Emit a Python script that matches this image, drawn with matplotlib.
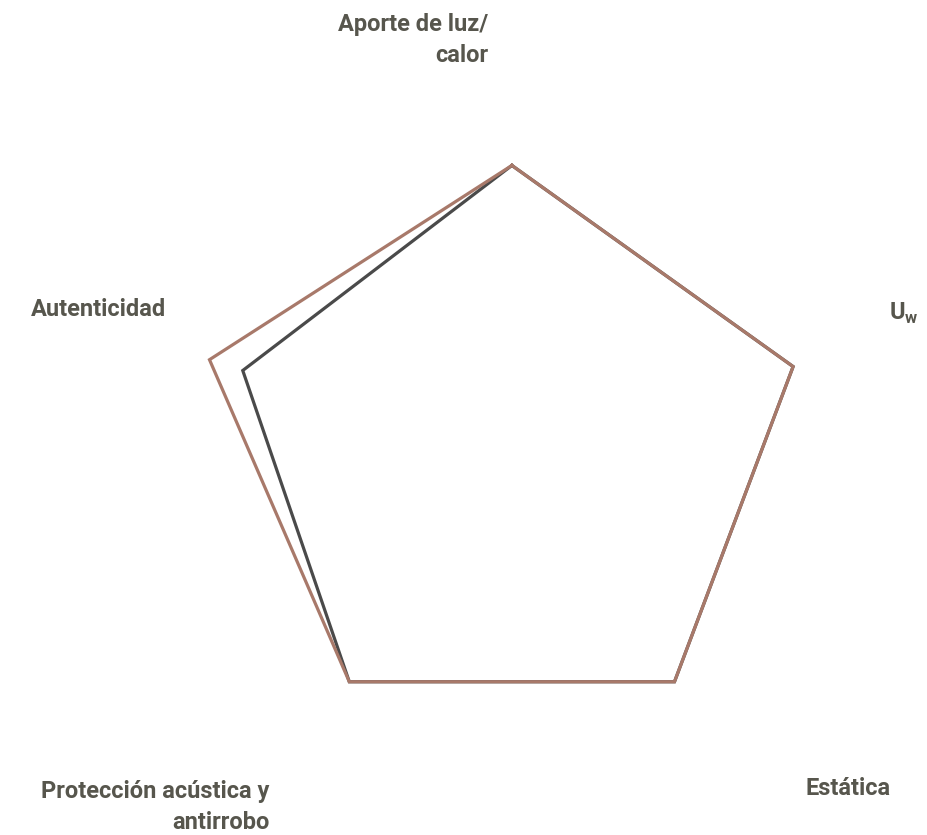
import numpy as np
import matplotlib
matplotlib.use("Agg")
from matplotlib import pyplot as plt

# axes, clockwise from the top
categories = ["Aporte de luz/\ncalor", r"U$_\mathregular{w}$", "Estática",
              "Protección acústica y\nantirrobo", "Autenticidad"]
brown_values = [92, 93, 87, 87, 100]
gray_values = [92, 93, 87, 87, 89]

# label placement: offset (points) from the axis end, alignment
label_offsets = [(-17, 72), (54, 29), (77, -53), (-40, -66), (-31, 36)]
label_ha = ["right", "left", "left", "right", "right"]
label_va = ["center", "baseline", "center", "center", "center"]

plt.rcParams["font.family"] = ["Roboto", "DejaVu Sans"]
plt.rcParams["mathtext.fontset"] = "custom"
plt.rcParams["mathtext.rm"] = "Roboto:bold"

text_color = "#57564d"
brown = "#a8796a"
gray = "#4a4a4a"

n = len(categories)
angles = np.pi / 2 - np.arange(n) * 2 * np.pi / n

fig = plt.figure(figsize=(9.27, 8.35), dpi=100)
ax = fig.add_axes([0.2092, 0.0695, 0.6860, 0.7641], projection="polar")
ax.set_ylim(0, 100)
ax.grid(False)
ax.spines["polar"].set_visible(False)
ax.set_xticks([])
ax.set_yticks([])
ax.patch.set_alpha(0)

th = np.append(angles, angles[0])
ax.plot(th, gray_values + gray_values[:1], color=gray, lw=2.3,
        solid_joinstyle="miter", clip_on=False)
ax.plot(th, brown_values + brown_values[:1], color=brown, lw=2.3,
        solid_joinstyle="miter", clip_on=False)

for ang, lab, off, ha, va in zip(angles, categories, label_offsets, label_ha, label_va):
    ax.annotate(lab, xy=(ang, 100), xytext=off, textcoords="offset points",
                ha=ha, va=va, multialignment="right", fontsize=17,
                fontweight="bold", color=text_color, linespacing=1.45,
                annotation_clip=False)

fig.savefig("out.png", dpi=100)
